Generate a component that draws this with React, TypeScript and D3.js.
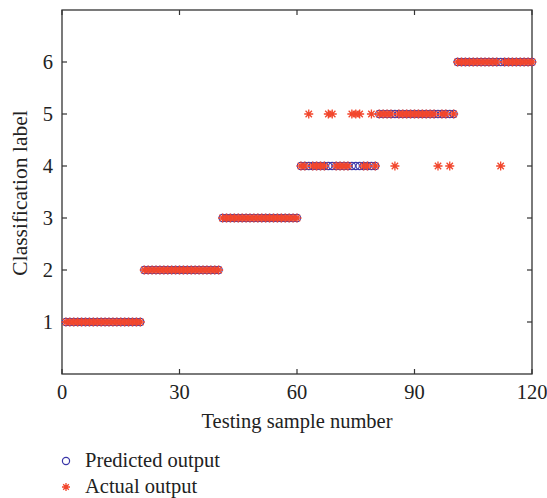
import React from 'react';
import * as d3 from 'd3';

// testing samples 1..120, class labels by block of 20
const blockLabels = [1, 2, 3, 4, 5, 6];
const blockSize = 20;
// samples where the actual output differs from the predicted one
const wrongSamples = [63, 68, 69, 74, 75, 76, 79, 85, 96, 99, 112];
const wrongLabels = [5, 5, 5, 5, 5, 5, 5, 4, 4, 4, 4];

const xTicks = [0, 30, 60, 90, 120];
const yTicks = [1, 2, 3, 4, 5, 6];

const predicted: number[] = [];
blockLabels.forEach(l => {
  for (let i = 0; i < blockSize; i++) predicted.push(l);
});
const actual = predicted.map((v, i) => {
  const k = wrongSamples.indexOf(i + 1);
  return k >= 0 ? wrongLabels[k] : v;
});

const W = 547, H = 498;
const m = { left: 62, right: 532, top: 10, bottom: 374 };
const font = '"Liberation Serif", "DejaVu Serif", serif';
const fs = 20.5;
const axisColor = '#333';
const blue = '#3a36a8';
const red = '#f2462c';

function starPath(cx: number, cy: number, r: number) {
  const p = d3.path();
  for (let a = 0; a < 4; a++) {
    const t = (a * Math.PI) / 4;
    const dx = Math.cos(t) * r, dy = Math.sin(t) * r;
    p.moveTo(cx - dx, cy - dy);
    p.lineTo(cx + dx, cy + dy);
  }
  return p.toString();
}

export default function App() {
  const x = d3.scaleLinear().domain([0, 120]).range([m.left, m.right]);
  const y = d3.scaleLinear().domain([0, 7]).range([m.bottom, m.top]);

  return (
    <svg width={W} height={H} style={{ position: 'absolute', left: 0, top: 0 }}>
      <rect x={0} y={0} width={W} height={H} fill="#fff" />
      {/* box */}
      <rect x={m.left} y={m.top} width={m.right - m.left} height={m.bottom - m.top}
        fill="none" stroke={axisColor} strokeWidth={1.3} />
      {xTicks.map(t => (
        <g key={'x' + t}>
          <line x1={x(t)} x2={x(t)} y1={m.bottom} y2={m.bottom - 5} stroke={axisColor} strokeWidth={1.2} />
          <line x1={x(t)} x2={x(t)} y1={m.top} y2={m.top + 5} stroke={axisColor} strokeWidth={1.2} />
          <text x={x(t)} y={m.bottom + 25} textAnchor="middle" fontFamily={font} fontSize={fs} fill="#222">{t}</text>
        </g>
      ))}
      {yTicks.map(t => (
        <g key={'y' + t}>
          <line x1={m.left} x2={m.left + 5} y1={y(t)} y2={y(t)} stroke={axisColor} strokeWidth={1.2} />
          <line x1={m.right} x2={m.right - 5} y1={y(t)} y2={y(t)} stroke={axisColor} strokeWidth={1.2} />
          <text x={m.left - 9} y={y(t) + 6.5} textAnchor="end" fontFamily={font} fontSize={fs} fill="#222">{t}</text>
        </g>
      ))}
      <text x={(m.left + m.right) / 2} y={428} textAnchor="middle" fontFamily={font} fontSize={fs} fill="#222">
        Testing sample number
      </text>
      <text transform={`translate(27,${(m.top + m.bottom) / 2 + 1}) rotate(-90)`} textAnchor="middle"
        fontFamily={font} fontSize={fs + 1} fill="#222">Classification label</text>

      {predicted.map((v, i) => (
        <circle key={'p' + i} cx={x(i + 1)} cy={y(v)} r={3.6} fill="none" stroke={blue} strokeWidth={1.1} />
      ))}
      {actual.map((v, i) => (
        <path key={'a' + i} d={starPath(x(i + 1), y(v), 4.5)} stroke={red} strokeWidth={1.3} />
      ))}

      {/* legend */}
      <circle cx={66} cy={461} r={3.6} fill="none" stroke={blue} strokeWidth={1.2} />
      <text x={85} y={467} fontFamily={font} fontSize={fs} fill="#222">Predicted output</text>
      <path d={starPath(66, 487, 4)} stroke={red} strokeWidth={1.3} />
      <text x={85} y={493} fontFamily={font} fontSize={fs} fill="#222">Actual output</text>
    </svg>
  );
}
